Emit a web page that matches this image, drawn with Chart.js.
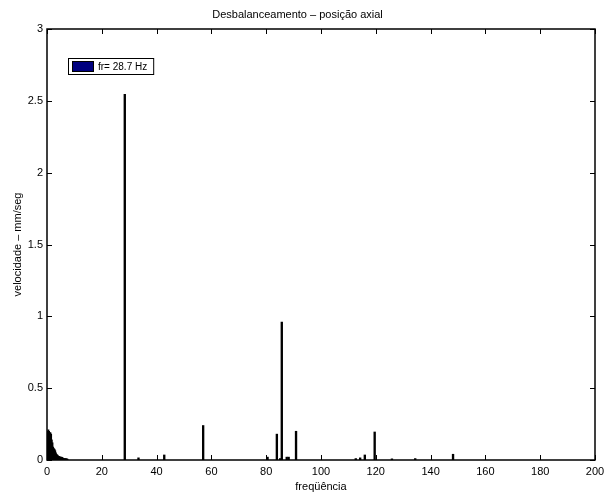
<!DOCTYPE html>
<html>
<head>
<meta charset="utf-8">
<script src="https://cdn.jsdelivr.net/npm/chart.js@4"></script>
<style>
  html, body { margin: 0; padding: 0; background: #fff; }
  #wrap { width: 605px; height: 495px; }
</style>
</head>
<body>
<div id="wrap"><canvas id="espectro"></canvas></div>
<script>
// componentes de baixa frequência (Hz) e amplitude (mm/seg)
const freqBaixa = [0, 0.25, 0.5, 0.75, 1, 1.25, 1.5, 1.75, 2, 2.25, 2.5, 2.75, 3, 3.25, 3.5,
  3.75, 4, 4.25, 4.5, 4.75, 5, 5.25, 5.5, 5.75, 6, 6.25, 6.5, 6.75, 7, 7.25]
const velBaixa = [0.20, 0.21, 0.20, 0.19, 0.19, 0.18, 0.14, 0.12, 0.09, 0.08, 0.075, 0.065, 0.05, 0.04, 0.035,
  0.03, 0.025, 0.025, 0.02, 0.02, 0.02, 0.018, 0.015, 0.012, 0.01, 0.01, 0.01, 0.008, 0.008, 0.006]

// picos do espectro
const freqPicos = [28.7, 33.7, 43.1, 57.3, 80.8, 84.2, 85.4, 86.0, 87.8, 88.5, 91.2,
  113.0, 114.6, 116.3, 119.9, 126.2, 134.7, 148.5]
const velPicos = [2.545, 0.015, 0.035, 0.24, 0.02, 0.18, 0.01, 0.96, 0.02, 0.02, 0.20,
  0.01, 0.015, 0.035, 0.195, 0.008, 0.01, 0.04]

const fr = 28.7
const ticksX = [0, 20, 40, 60, 80, 100, 120, 140, 160, 180, 200]
const ticksY = [0, 0.5, 1, 1.5, 2, 2.5, 3]

const fonte = { family: '"Liberation Sans", Arial, sans-serif', size: 11 }
const azul = '#00007f'

const pares = (xs, ys) => xs.map((x, i) => ({ x: x, y: ys[i] }))

// moldura com marcas internas nos quatro lados (estilo matlab)
const moldura = {
  id: 'moldura',
  afterDraw(chart) {
    const { ctx, chartArea: a, scales } = chart
    const len = 5
    ctx.save()
    ctx.strokeStyle = '#000'
    ctx.lineWidth = 1
    ctx.beginPath()
    ticksX.forEach(v => {
      const px = Math.round(scales.x.getPixelForValue(v)) + 0.5
      ctx.moveTo(px, a.bottom); ctx.lineTo(px, a.bottom - len)
      ctx.moveTo(px, a.top); ctx.lineTo(px, a.top + len)
    })
    ticksY.forEach(v => {
      const py = Math.round(scales.y.getPixelForValue(v)) + 0.5
      ctx.moveTo(a.left, py); ctx.lineTo(a.left + len, py)
      ctx.moveTo(a.right, py); ctx.lineTo(a.right - len, py)
    })
    ctx.stroke()
    ctx.lineWidth = 1.5
    ctx.strokeRect(a.left, a.top, a.right - a.left, a.bottom - a.top)

    // legenda
    const label = chart.data.datasets[0].label
    const bx = a.left + 21, by = a.top + 29
    ctx.font = '10px ' + fonte.family
    const w = ctx.measureText(label).width
    ctx.fillStyle = '#fff'
    ctx.lineWidth = 1
    ctx.fillRect(bx, by, w + 36, 16)
    ctx.strokeRect(bx + 0.5, by + 0.5, w + 36, 16)
    ctx.fillStyle = azul
    ctx.fillRect(bx + 4, by + 3.5, 21, 10)
    ctx.strokeRect(bx + 4.5, by + 3.5, 21, 10)
    ctx.fillStyle = '#000'
    ctx.textBaseline = 'middle'
    ctx.fillText(label, bx + 30, by + 9)
    ctx.restore()
  }
}

new Chart(document.getElementById('espectro'), {
  type: 'bar',
  data: {
    datasets: [
      {
        label: 'fr= ' + fr + ' Hz',
        data: pares(freqPicos, velPicos),
        backgroundColor: '#000',
        borderColor: '#000',
        borderWidth: 0,
        barThickness: 1.7
      },
      {
        label: 'baixa',
        data: pares(freqBaixa, velBaixa),
        backgroundColor: '#000',
        borderWidth: 0,
        barThickness: 1.3
      }
    ]
  },
  options: {
    responsive: true,
    maintainAspectRatio: false,
    animation: false,
    layout: { padding: { top: 0, right: 10, left: 0, bottom: 0 } },
    plugins: {
      legend: { display: false },
      tooltip: { enabled: false },
      title: {
        display: true,
        text: 'Desbalanceamento – posição axial',
        color: '#000',
        font: { ...fonte, weight: 'normal' },
        padding: { top: 8, bottom: 7.8 }
      }
    },
    scales: {
      x: {
        type: 'linear',
        min: 0,
        max: 200,
        offset: false,
        grid: { display: false, drawTicks: false },
        border: { display: false },
        afterBuildTicks: s => { s.ticks = ticksX.map(v => ({ value: v })) },
        afterFit: s => { s.height = 35; s.paddingLeft = 0; s.paddingRight = 0 },
        ticks: { color: '#000', font: fonte, padding: 5, maxRotation: 0 },
        title: { display: true, text: 'freqüência', color: '#000', font: fonte, padding: { top: 0, bottom: 1.4 } }
      },
      y: {
        min: 0,
        max: 3,
        grid: { display: false, drawTicks: false },
        border: { display: false },
        afterBuildTicks: s => { s.ticks = ticksY.map(v => ({ value: v })) },
        afterFit: s => { s.width = 47; s.paddingTop = 0; s.paddingBottom = 0 },
        ticks: { color: '#000', font: fonte, padding: 4, callback: v => String(v) },
        title: { display: true, text: 'velocidade – mm/seg', color: '#000', font: fonte, padding: { top: 11.4, bottom: 0 } }
      }
    }
  },
  plugins: [moldura]
})
</script>
</body>
</html>
